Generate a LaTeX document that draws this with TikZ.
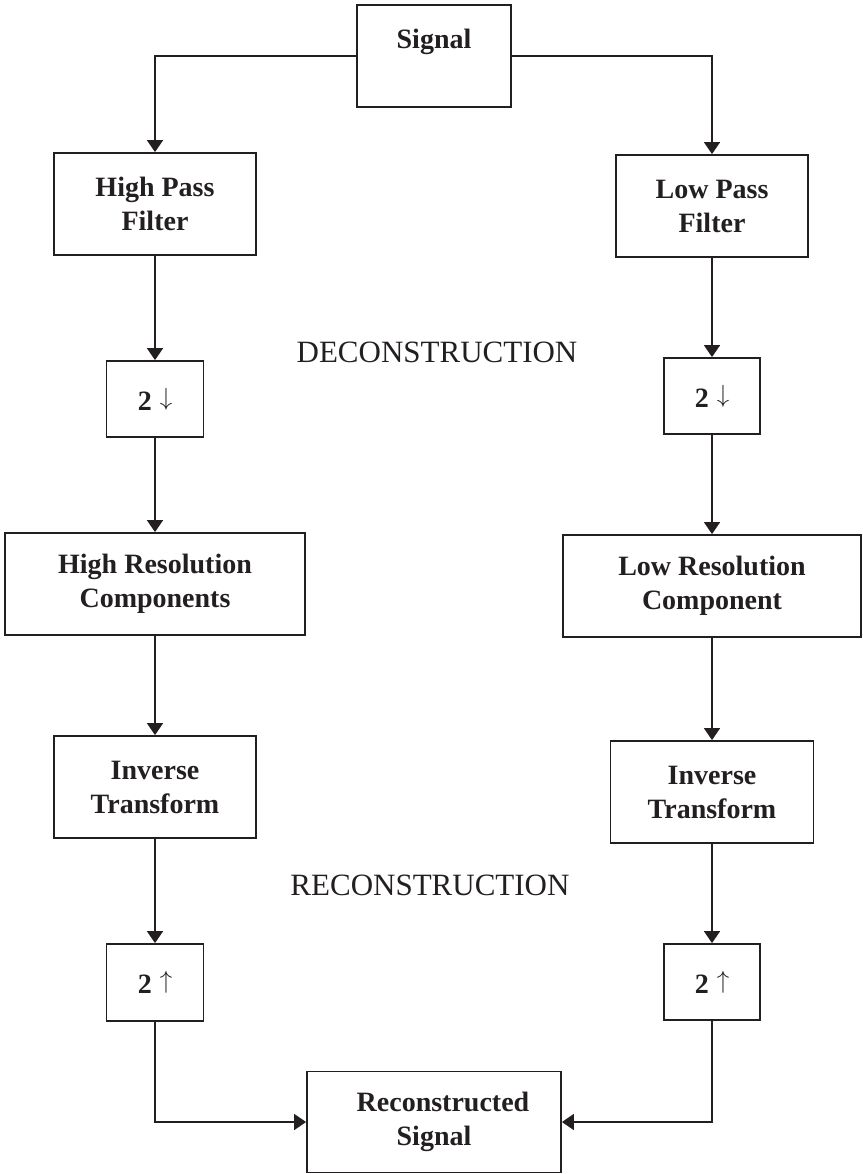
\documentclass[tikz,border=0pt]{standalone}
\usepackage{fontspec}
\setmainfont{Liberation Serif}
\usetikzlibrary{arrows.meta}
\definecolor{ink}{RGB}{35,31,32}
\newcommand{\dnarr}{\raisebox{5pt}{\fontsize{26}{26}\selectfont$\downarrow$}}
\newcommand{\uparr}{\raisebox{5pt}{\fontsize{26}{26}\selectfont$\uparrow$}}
\begin{document}
\begin{tikzpicture}[x=1pt,y=-1pt,
  box/.style={draw=ink, line width=1.8pt, rectangle, align=center, inner sep=0pt,
    font=\fontsize{28}{34}\selectfont\bfseries, text=ink},
  conn/.style={draw=ink, line width=1.6pt, -{Triangle[length=12pt,width=16pt]}},
  lbl/.style={font=\fontsize{31}{36}\selectfont, text=ink, anchor=base}]
\useasboundingbox (0,0) rectangle (862,1174);
% top
\node[box, minimum width=154pt, minimum height=102pt] (sig) at (434,56) {Signal\\\mbox{}};
% left column
\node[box, minimum width=202pt, minimum height=102pt] (hpf) at (155,204) {High Pass\\Filter};
\node[box, minimum width=97pt, minimum height=76pt] (dl) at (155,399) {2\hspace{8pt}\dnarr};
\node[box, minimum width=300pt, minimum height=102pt] (hrc) at (155,584) {High Resolution\\Components};
\node[box, minimum width=202pt, minimum height=102pt] (itl) at (155,787) {Inverse\\Transform};
\node[box, minimum width=97pt, minimum height=77pt] (ul) at (155,982.5) {2\hspace{8pt}\uparr};
% right column
\node[box, minimum width=192pt, minimum height=102pt] (lpf) at (712,206) {Low Pass\\Filter};
\node[box, minimum width=96pt, minimum height=76pt] (dr) at (712,396) {2\hspace{8pt}\dnarr};
\node[box, minimum width=298pt, minimum height=102pt] (lrc) at (712,586) {Low Resolution\\Component};
\node[box, minimum width=203pt, minimum height=102pt] (itr) at (712,792) {Inverse\\Transform};
\node[box, minimum width=96pt, minimum height=76pt] (ur) at (712,982) {2\hspace{8pt}\uparr};
% bottom
\node[box, minimum width=254pt, minimum height=101pt] (rec) at (434,1122) {\hspace*{18pt}Reconstructed\\Signal};
% labels
\node[lbl] (dec) at (437,362) {DECONSTRUCTION};
\node[lbl] (recl) at (430,895) {RECONSTRUCTION};
% connectors
\draw[conn] (sig.west) -| (hpf.north);
\draw[conn] (sig.east) -| (lpf.north);
\draw[conn] (hpf.south) -- (dl.north);
\draw[conn] (dl.south) -- (hrc.north);
\draw[conn] (hrc.south) -- (itl.north);
\draw[conn] (itl.south) -- (ul.north);
\draw[conn] (lpf.south) -- (dr.north);
\draw[conn] (dr.south) -- (lrc.north);
\draw[conn] (lrc.south) -- (itr.north);
\draw[conn] (itr.south) -- (ur.north);
\draw[conn] (ul.south) |- (rec.west);
\draw[conn] (ur.south) |- (rec.east);
\end{tikzpicture}
\end{document}
